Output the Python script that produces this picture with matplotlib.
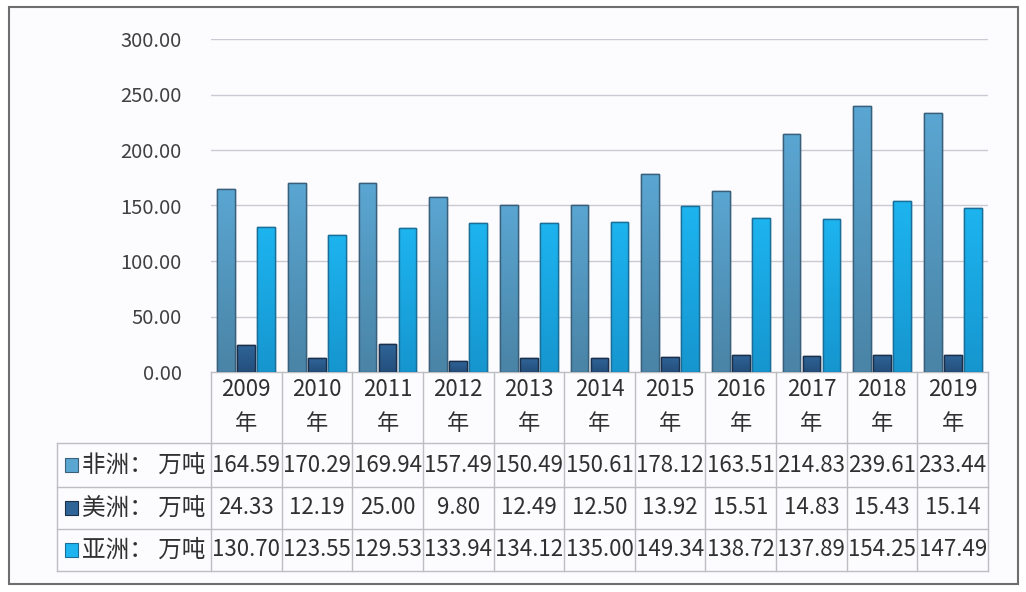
import numpy as np
import matplotlib
matplotlib.use('Agg')
import matplotlib.pyplot as plt
import matplotlib.transforms as mtransforms
from matplotlib.colors import LinearSegmentedColormap
from matplotlib.patches import Rectangle

plt.rcParams['font.family'] = ['Noto Sans CJK SC', 'DejaVu Sans']

years = ['2009', '2010', '2011', '2012', '2013', '2014', '2015', '2016', '2017', '2018', '2019']
year_suffix = '年'
series_labels = ['非洲： 万吨', '美洲： 万吨', '亚洲： 万吨']
africa = [164.59, 170.29, 169.94, 157.49, 150.49, 150.61, 178.12, 163.51, 214.83, 239.61, 233.44]
america = [24.33, 12.19, 25.00, 9.80, 12.49, 12.50, 13.92, 15.51, 14.83, 15.43, 15.14]
asia = [130.70, 123.55, 129.53, 133.94, 134.12, 135.00, 149.34, 138.72, 137.89, 154.25, 147.49]
yticks = [0, 50, 100, 150, 200, 250, 300]

series = [africa, america, asia]
# (top colour, bottom colour, edge)
styles = [('#5AA6D2', '#4A84A6', '#3A5F7A'),
          ('#2F6498', '#244F7C', '#1B2F4A'),
          ('#1DB4F0', '#1696CF', '#1B6E98')]

W, H = 1026, 592
fig = plt.figure(figsize=(W / 100, H / 100), dpi=100)
fig.patch.set_facecolor('white')

over = fig.add_axes([0, 0, 1, 1], zorder=0)
over.set_xlim(0, W)
over.set_ylim(H, 0)
over.axis('off')
over.add_patch(Rectangle((9, 7), 1009, 577, facecolor='#FCFCFE', edgecolor='#6E6E6E', lw=1.5))

x0, x1, yb, yt = 211, 988, 372, 39
ax = fig.add_axes([x0 / W, 1 - yb / H, (x1 - x0) / W, (yb - yt) / H], zorder=1)
ax.patch.set_alpha(0)
n = len(years)
x = np.arange(n)
ax.set_xlim(-0.5, n - 0.5)
ax.set_ylim(0, 300)
for s in ax.spines.values():
    s.set_visible(False)
ax.set_xticks([])
ax.set_yticks(yticks)
ax.set_yticklabels([f'{v:.2f}' for v in yticks], fontsize=14.5, color='#404040')
ax.tick_params(axis='y', length=0, pad=21)
for v in yticks[1:]:
    ax.axhline(v, color='#C9CAD3', lw=1.0, zorder=0)

width = 0.25
offsets = [-0.283, 0.0, 0.283]
for vals, off, (ctop, cbot, ce) in zip(series, offsets, styles):
    cmap = LinearSegmentedColormap.from_list('g', [cbot, ctop])
    bars = ax.bar(x + off, vals, width=width, color=ctop, edgecolor=ce, lw=1.0, zorder=2)
    for b in bars:
        bx, by = b.get_x(), b.get_y()
        bw, bh = b.get_width(), b.get_height()
        grad = np.linspace(0, 1, 64).reshape(-1, 1)
        im = ax.imshow(grad, extent=(bx, bx + bw, by, by + bh), origin='lower',
                       cmap=cmap, aspect='auto', zorder=2.5)
        im.set_clip_path(b)
        ax.add_patch(Rectangle((bx, by), bw, bh, facecolor='none', edgecolor=ce, lw=1.0, zorder=3))
ax.set_xlim(-0.5, n - 0.5)
ax.set_ylim(0, 300)

# data table
blend = mtransforms.blended_transform_factory(ax.transData, over.transData)
line_c = '#BDBDC4'
rows_y = [372, 443, 487, 529, 571]
lx = 57
over.plot([x0, x1], [rows_y[0], rows_y[0]], color=line_c, lw=1.0)
for yy in rows_y[1:]:
    over.plot([lx, x1], [yy, yy], color=line_c, lw=1.0)
over.plot([lx, lx], [rows_y[1], rows_y[-1]], color=line_c, lw=1.0)
for i in range(n + 1):
    xl = i - 0.5
    over.plot([xl, xl], [rows_y[0], rows_y[-1]], color=line_c, lw=1.0, transform=blend)

txt_c = '#303030'
for i, yr in enumerate(years):
    over.text(i, 389, yr, transform=blend, ha='center', va='center', fontsize=16, color=txt_c)
    over.text(i, 423, year_suffix, transform=blend, ha='center', va='center', fontsize=16, color=txt_c)

row_centers = [(rows_y[k] + rows_y[k + 1]) / 2 for k in range(1, 4)]
for k, (vals, lab, (ctop, cbot, ce)) in enumerate(zip(series, series_labels, styles)):
    yc = row_centers[k]
    over.add_patch(Rectangle((65, yc - 7), 13, 14, facecolor=ctop, edgecolor=ce, lw=0.8))
    over.text(82, yc, lab, ha='left', va='center', fontsize=17, color=txt_c)
    for i, v in enumerate(vals):
        over.text(i, yc, f'{v:.2f}', transform=blend, ha='center', va='center', fontsize=16, color=txt_c)

fig.savefig('out.png', dpi=100)
